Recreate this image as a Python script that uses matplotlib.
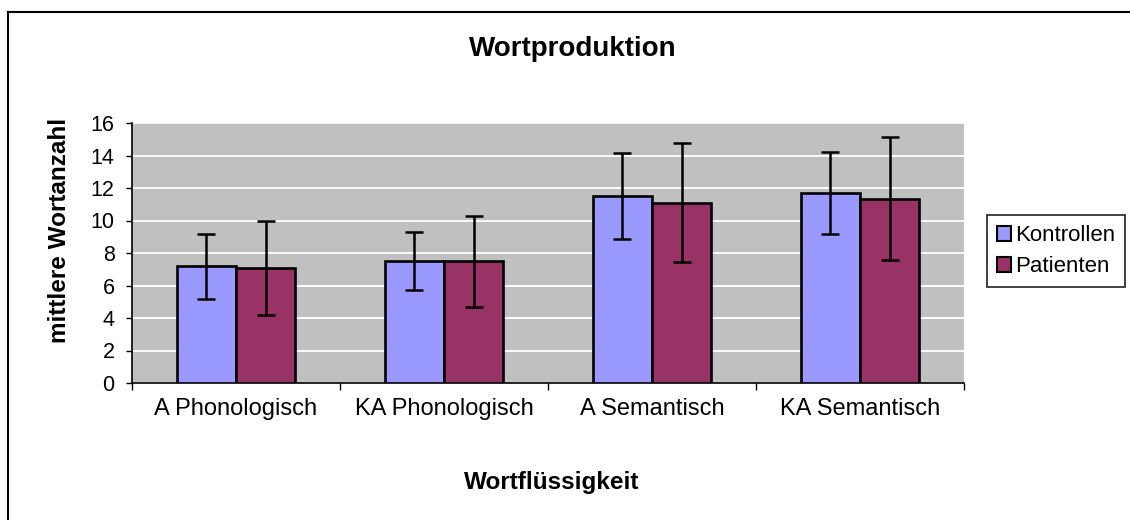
import matplotlib
matplotlib.use("Agg")
import matplotlib.pyplot as plt
import numpy as np
from matplotlib.lines import Line2D
from matplotlib.patches import Patch

plt.rcParams['font.family'] = ['Liberation Sans', 'DejaVu Sans']

categories = ["A Phonologisch", "KA Phonologisch", "A Semantisch", "KA Semantisch"]
kontrollen = [7.2, 7.5, 11.5, 11.7]
kontrollen_err = [2.0, 1.8, 2.65, 2.5]
patienten = [7.1, 7.5, 11.1, 11.35]
patienten_err = [2.9, 2.8, 3.65, 3.8]
series_names = ["Kontrollen", "Patienten"]
colors = ["#9999FF", "#993366"]
yticks = [0, 2, 4, 6, 8, 10, 12, 14, 16]

W, H = 1130, 520
fig = plt.figure(figsize=(W / 100, H / 100), dpi=100)
fig.patch.set_facecolor("white")

# figure border (left and top visible)
fig.add_artist(Line2D([8 / W, 8 / W], [0, 1 - 12 / H], transform=fig.transFigure, color="black", lw=1.5))
fig.add_artist(Line2D([8 / W, 1], [1 - 12 / H, 1 - 12 / H], transform=fig.transFigure, color="black", lw=1.5))

left, right, top, bottom = 132, 964, 123, 383
ax = fig.add_axes([left / W, 1 - bottom / H, (right - left) / W, (bottom - top) / H])
ax.set_facecolor("#C0C0C0")

x = np.arange(len(categories))
bw = 0.285
err_kw = dict(ecolor="black", elinewidth=1.8, capsize=6.5, capthick=1.8)
ax.bar(x - bw / 2, kontrollen, bw, yerr=kontrollen_err, color=colors[0], edgecolor="black",
       linewidth=1.9, error_kw=err_kw, zorder=3)
ax.bar(x + bw / 2, patienten, bw, yerr=patienten_err, color=colors[1], edgecolor="black",
       linewidth=1.9, error_kw=err_kw, zorder=3)

ax.set_xlim(-0.5, len(categories) - 0.5)
ax.set_ylim(0, 16)
ax.set_yticks(yticks)
ax.yaxis.grid(True, color="white", lw=1.3, zorder=0)
ax.set_axisbelow(True)
ax.tick_params(axis="y", length=4.5, width=1, direction="out", labelsize=15.5, pad=8)

ax.set_xticks(np.arange(len(categories) + 1) - 0.5)
ax.set_xticklabels([])
ax.tick_params(axis="x", which="major", length=5, width=1, direction="out")
ax.set_xticks(x, minor=True)
ax.set_xticklabels(categories, minor=True, fontsize=17)
ax.tick_params(axis="x", which="minor", length=0, pad=11)

for s in ["top", "right"]:
    ax.spines[s].set_visible(False)
for s in ["left", "bottom"]:
    ax.spines[s].set_color("black")
    ax.spines[s].set_linewidth(1.2)

fig.text(573 / W, 1 - 49 / H, "Wortproduktion", ha="center", va="center", fontsize=20, fontweight="bold")
fig.text(59 / W, 1 - 230 / H, "mittlere Wortanzahl", ha="center", va="center", rotation=90,
         fontsize=17.5, fontweight="bold")
fig.text(552 / W, 1 - 482 / H, "Wortflüssigkeit", ha="center", va="center", fontsize=17.5, fontweight="bold")

handles = [Patch(facecolor=c, edgecolor="black", linewidth=1.5) for c in colors]
leg = fig.legend(handles, series_names, loc="upper left",
                 bbox_to_anchor=(987 / W, 1 - 215 / H), bbox_transform=fig.transFigure,
                 fontsize=16, frameon=True, fancybox=False, edgecolor="black",
                 handlelength=0.65, handleheight=0.65, handletextpad=0.15,
                 labelspacing=0.45, borderpad=0.45, borderaxespad=0)
leg.get_frame().set_linewidth(1.3)

fig.savefig("out.png", dpi=100)
